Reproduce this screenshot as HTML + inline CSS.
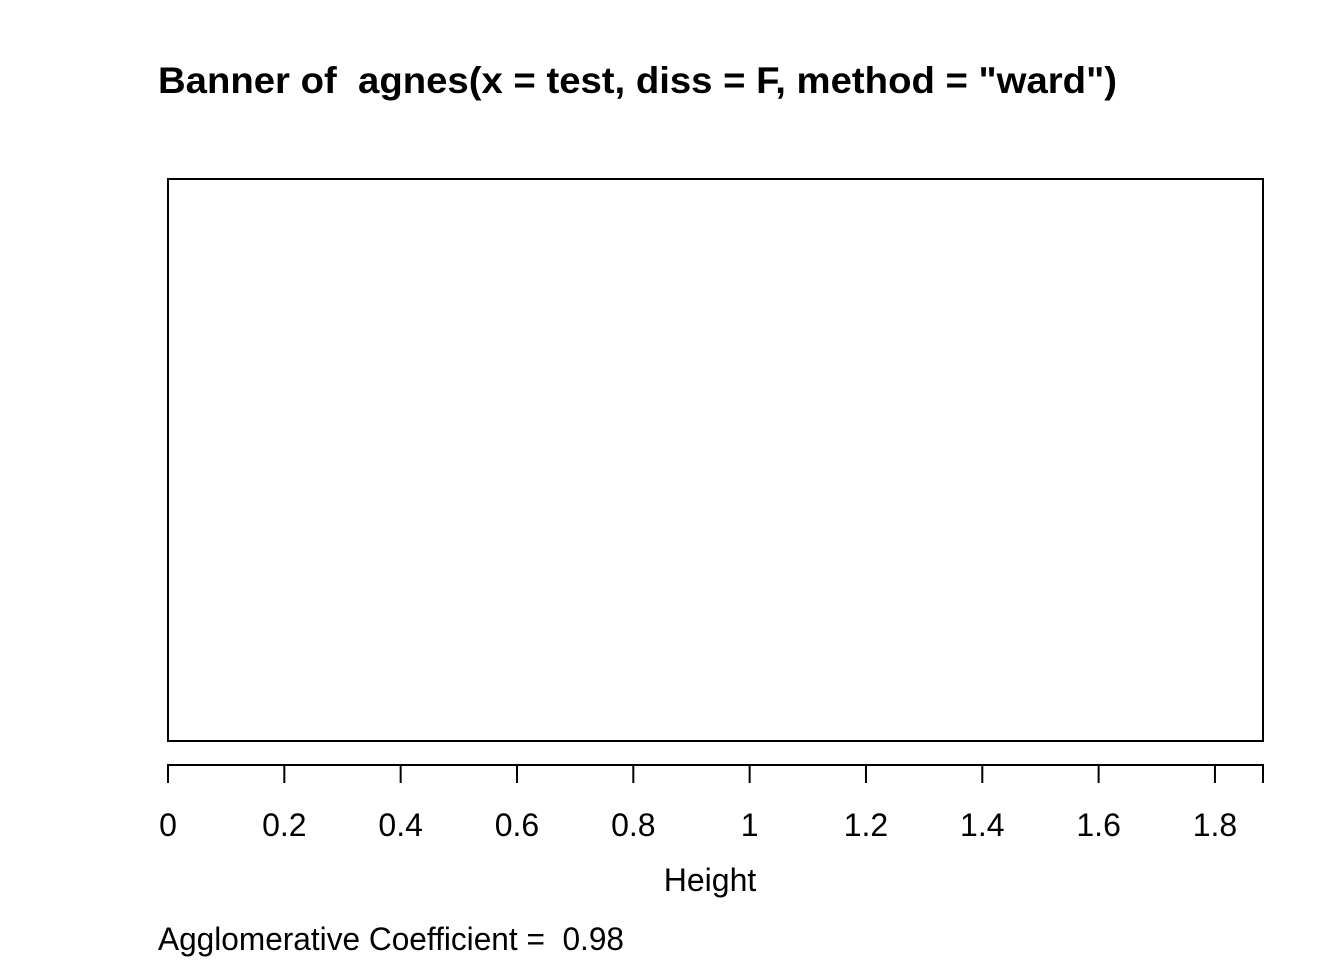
<!DOCTYPE html>
<html>
<head>
<meta charset="utf-8">
<style>
  html,body{margin:0;padding:0;background:#fff;}
  svg{display:block;}
  text{font-family:"Liberation Sans", Arial, sans-serif;fill:#000;}
</style>
</head>
<body>
<svg id="chart" width="1344" height="960" viewBox="0 0 1344 960">
  <text x="158" y="93" font-size="37" font-weight="bold" textLength="959" lengthAdjust="spacingAndGlyphs" xml:space="preserve">Banner of  agnes(x = test, diss = F, method = "ward")</text>
  <rect x="168" y="179" width="1095" height="562" fill="none" stroke="#000" stroke-width="2"/>
  <g id="axis"></g>
  <text x="710" y="891" font-size="32" text-anchor="middle">Height</text>
  <text x="158" y="950" font-size="32" textLength="466" lengthAdjust="spacingAndGlyphs" xml:space="preserve">Agglomerative Coefficient =  0.98</text>
</svg>
<script>
const tickValues = [0, 0.2, 0.4, 0.6, 0.8, 1, 1.2, 1.4, 1.6, 1.8];
const tickLabels = ["0", "0.2", "0.4", "0.6", "0.8", "1", "1.2", "1.4", "1.6", "1.8"];
const domainMax = [1.8826];

const NS = "http://www.w3.org/2000/svg";
const x0 = 168, x1 = 1263;
function xScale(v){ return x0 + (v / domainMax[0]) * (x1 - x0); }

const axis = document.getElementById('axis');
const line = document.createElementNS(NS, 'line');
line.setAttribute('x1', x0); line.setAttribute('x2', x1);
line.setAttribute('y1', 765); line.setAttribute('y2', 765);
line.setAttribute('stroke', '#000'); line.setAttribute('stroke-width', 2);


axis.appendChild(line);

function addTick(xv, name){
  const t = document.createElementNS(NS, 'line');
  t.setAttribute('x1', xv); t.setAttribute('x2', xv);
  t.setAttribute('y1', 764); t.setAttribute('y2', 783);
  t.setAttribute('stroke', '#000'); t.setAttribute('stroke-width', 2);
  
  
  axis.appendChild(t);
}

tickValues.forEach((v, i) => {
  const xv = xScale(v);
  addTick(xv, 'x-tick');
  const lab = document.createElementNS(NS, 'text');
  lab.setAttribute('x', xv); lab.setAttribute('y', 836);
  lab.setAttribute('font-size', 32);
  lab.setAttribute('text-anchor', 'middle');
  
  
  lab.textContent = tickLabels[i];
  axis.appendChild(lab);
});
addTick(xScale(domainMax[0]), 'x-axis-end-tick');
</script>
</body>
</html>
